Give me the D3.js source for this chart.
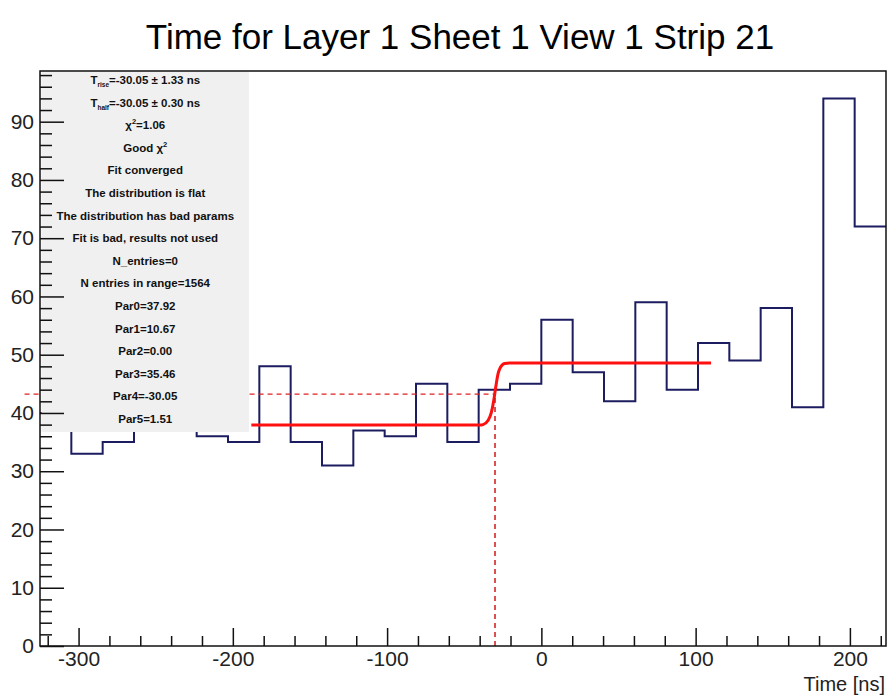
<!DOCTYPE html>
<html>
<head>
<meta charset="utf-8">
<script src="https://cdn.jsdelivr.net/npm/d3@7/dist/d3.min.js"></script>
<style>
  html, body { margin: 0; padding: 0; background: #fff; }
  svg { display: block; }
</style>
</head>
<body>
<svg id="chart" width="889" height="697"></svg>
<script>
// ---------------- data ----------------
const title = "Time for Layer 1 Sheet 1 View 1 Strip 21";
const xTitle = "Time [ns]";
const histMin = -325, histMax = 223.4;          // histogram axis range (ns)
const binCounts = [40, 33, 35, 41, 39, 36, 35, 48, 35, 31, 37, 36, 45, 35,
                   44, 45, 56, 47, 42, 59, 44, 52, 49, 58, 41, 94, 72];
const yMax = 98.7;
const xMajorTicks = [-300, -200, -100, 0, 100, 200];
const xMinorTicks = [-320, -280, -260, -240, -220, -180, -160, -140, -120, -80, -60, -40, -20,
                     20, 40, 60, 80, 120, 140, 160, 180, 220];
const yMajorTicks = [0, 10, 20, 30, 40, 50, 60, 70, 80, 90];
const yMinorTicks = [2,4,6,8,12,14,16,18,22,24,26,28,32,34,36,38,42,44,46,48,
                     52,54,56,58,62,64,66,68,72,74,76,78,82,84,86,88,92,94,96,98];
// fit curve
const fitX = [-188, -40, -37.8, -34.6, -32.4, -30.9, -29.6, -28.1, -26.6, -23.8, -20.5, 110];
const fitY = [37.92, 37.92, 38.0, 38.7, 40.1, 42.1, 44.4, 46.7, 47.8, 48.5, 48.59, 48.59];
const tHalf = -30.05, halfLevel = 43.25, dashStartX = -335;
const statsLines = [
  {t: "T", sub: "rise", rest: "=-30.05 \u00b1 1.33 ns"},
  {t: "T", sub: "half", rest: "=-30.05 \u00b1 0.30 ns"},
  {t: "\u03c7", sup: "2", rest: "=1.06"},
  {t: "Good \u03c7", sup: "2", rest: ""},
  {t: "Fit converged"},
  {t: "The distribution is flat"},
  {t: "The distribution has bad params"},
  {t: "Fit is bad, results not used"},
  {t: "N_entries=0"},
  {t: "N entries in range=1564"},
  {t: "Par0=37.92"},
  {t: "Par1=10.67"},
  {t: "Par2=0.00"},
  {t: "Par3=35.46"},
  {t: "Par4=-30.05"},
  {t: "Par5=1.51"}
];

// ---------------- layout ----------------
const svg = d3.select("#chart");
const L = 40, R = 886, T = 71, B = 646;
const x = d3.scaleLinear().domain([histMin, histMax]).range([L, R]);
const y = d3.scaleLinear().domain([0, yMax]).range([B, T]);
const font = "'Liberation Sans', Arial, Helvetica, sans-serif";

// title
svg.append("text").attr("x", 460).attr("y", 49).attr("text-anchor", "middle")
  .attr("font-family", font).attr("font-size", 35).attr("fill", "#000").text(title);

// histogram
const nb = binCounts.length, bw = (histMax - histMin) / nb;
const hpts = [];
binCounts.forEach((v, i) => {
  hpts.push([histMin + i * bw, v]);
  hpts.push([histMin + (i + 1) * bw, v]);
});
svg.append("path").attr("d", d3.line().x(d => x(d[0])).y(d => y(d[1]))(hpts))
  .attr("fill", "none").attr("stroke", "#1c1c60").attr("stroke-width", 2);

// fit
svg.append("path")
  .attr("d", d3.line().x((d, i) => x(fitX[i])).y((d, i) => y(fitY[i])).curve(d3.curveMonotoneX)(fitX))
  .attr("fill", "none").attr("stroke", "#ff1010").attr("stroke-width", 3);

// dashed lines
svg.append("line").attr("x1", x(dashStartX)).attr("x2", x(tHalf))
  .attr("y1", y(halfLevel)).attr("y2", y(halfLevel))
  .attr("stroke", "#e02020").attr("stroke-width", 1.3).attr("stroke-dasharray", "5,4");
svg.append("line").attr("x1", x(tHalf)).attr("x2", x(tHalf))
  .attr("y1", y(0)).attr("y2", y(halfLevel))
  .attr("stroke", "#d01818").attr("stroke-width", 1.5).attr("stroke-dasharray", "5,4");

// stats box
const bx0 = 41.5, bx1 = 249, by0 = 71.5, by1 = 432;
svg.append("rect").attr("x", bx0).attr("y", by0).attr("width", bx1 - bx0).attr("height", by1 - by0)
  .attr("fill", "#f0f0f0");
const cx = (bx0 + bx1) / 2;
statsLines.forEach((s, i) => {
  const tx = svg.append("text").attr("x", cx).attr("y", 84 + i * 22.6)
    .attr("text-anchor", "middle").attr("font-family", font).attr("font-weight", "bold")
    .attr("font-size", 11.5).attr("fill", "#111");
  tx.append("tspan").text(s.t);
  if (s.sub) tx.append("tspan").attr("font-size", 6.5).attr("dy", 3).text(s.sub);
  if (s.sup) tx.append("tspan").attr("font-size", 7.5).attr("dy", -5).text(s.sup);
  if (s.rest !== undefined && s.rest !== "") {
    tx.append("tspan").attr("dy", s.sub ? -3 : (s.sup ? 5 : 0)).text(s.rest);
  }
});

// axes
const gx = svg.append("g").attr("transform", `translate(0,${B})`);
gx.call(d3.axisBottom(x).tickValues(xMinorTicks).tickSizeInner(-10).tickSizeOuter(0).tickFormat(""));
const gxM = svg.append("g").attr("transform", `translate(0,${B})`);
gxM.call(d3.axisBottom(x).tickValues(xMajorTicks).tickSizeInner(-18).tickSizeOuter(0).tickPadding(5)
  .tickFormat(d3.format("d")));
gxM.selectAll("text").attr("font-family", font).attr("font-size", 21).attr("fill", "#222")
  .text(d => String(d));

const gy = svg.append("g").attr("transform", `translate(${L},0)`);
gy.call(d3.axisLeft(y).tickValues(yMinorTicks).tickSizeInner(-12).tickSizeOuter(0).tickFormat(""));
const gyM = svg.append("g").attr("transform", `translate(${L},0)`);
gyM.call(d3.axisLeft(y).tickValues(yMajorTicks).tickSizeInner(-24).tickSizeOuter(0).tickPadding(6)
  .tickFormat(d3.format("d")));
gyM.selectAll("text").attr("font-family", font).attr("font-size", 21).attr("fill", "#222");
svg.selectAll(".tick line").attr("stroke", "#111").attr("stroke-width", 1.5);
svg.selectAll(".domain").remove();

// frame
svg.append("rect").attr("x", L).attr("y", T).attr("width", R - L).attr("height", B - T)
  .attr("fill", "none").attr("stroke", "#111").attr("stroke-width", 1.5);

// x title
svg.append("text").attr("x", 885).attr("y", 691).attr("text-anchor", "end")
  .attr("font-family", font).attr("font-size", 20).attr("fill", "#222").text(xTitle);
</script>
</body>
</html>
